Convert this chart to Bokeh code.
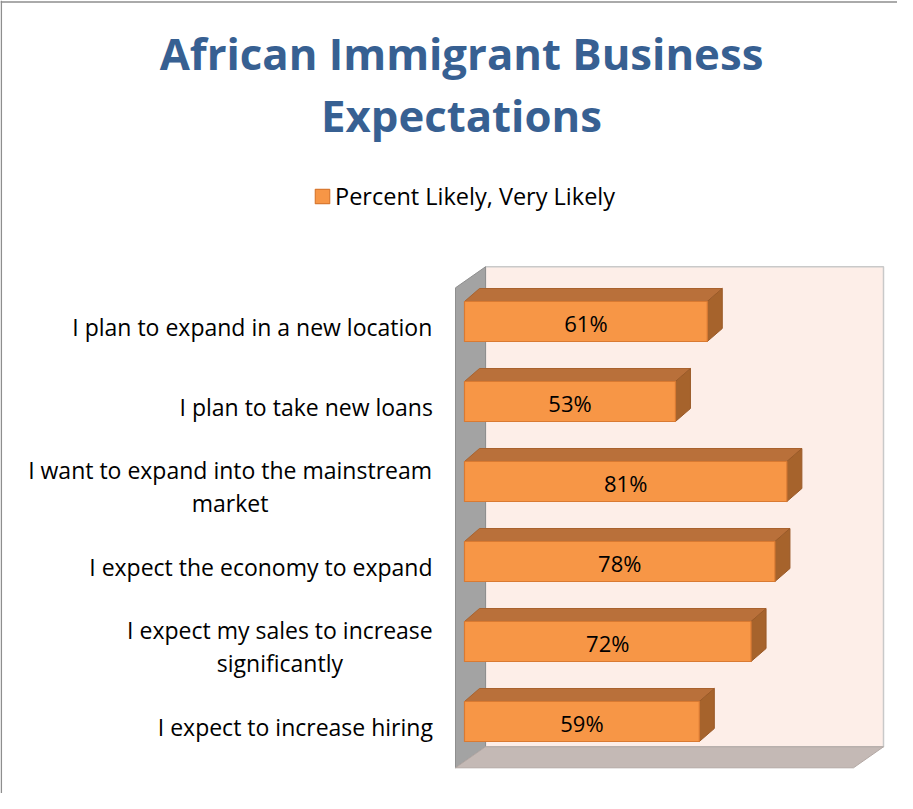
from bokeh.plotting import figure
from bokeh.models import Range1d, Legend, LegendItem, Span
from bokeh.core.properties import value
from bokeh.embed import file_html
from bokeh.resources import INLINE

# ---------------- data ----------------
categories = [
    "I expect to increase hiring",
    "I expect my sales to increase\nsignificantly",
    "I expect the economy to expand",
    "I want to expand into the mainstream\nmarket",
    "I plan to take new loans",
    "I plan to expand in a new location",
]
values = [59, 72, 78, 81, 53, 61]
value_labels = [f"{v}%" for v in values]
series_name = "Percent Likely, Very Likely"
title_text = "African Immigrant Business\nExpectations"
axis_max = 100

# ---------------- geometry / style ----------------
W, H = 897, 793
PX_X = 3.98          # px per percent
PX_Y = 80.0          # px per category
ORIGIN_X = 464       # px of 0% (bar plane) from figure left
ORIGIN_Y = 721       # px of first category centre from figure top

x0 = -ORIGIN_X / PX_X
x1 = (W - ORIGIN_X) / PX_X
y1 = ORIGIN_Y / PX_Y
y0 = (ORIGIN_Y - H) / PX_Y

FONT = "Open Sans"
CAT_FONT_PX = 23.0

# approximate Open Sans advance widths (em) used to centre wrapped label lines
_EM = {" ": .26, "a": .556, "b": .613, "c": .476, "d": .613, "e": .561, "f": .339,
       "g": .548, "h": .614, "i": .253, "k": .525, "l": .253, "m": .930, "n": .614,
       "o": .604, "p": .613, "r": .408, "s": .477, "t": .353, "u": .614, "v": .501,
       "w": .778, "x": .524, "y": .502, "I": .276}


def text_px(s, size):
    return sum(_EM.get(c, .55) for c in s) * size * 1.012


p = figure(width=W, height=H, output_backend="svg", toolbar_location=None,
           x_range=Range1d(x0, x1), y_range=Range1d(y0, y1),
           x_axis_location=None, y_axis_location=None, min_border=0,
           background_fill_color="white", border_fill_color="white")
p.outline_line_color = None
p.xgrid.visible = False
p.ygrid.visible = False

# 3-D box depth (in data units)
DX = 30 / PX_X
DY = 21 / PX_Y
fx, fy = -0.3 * DX, -0.3 * DY   # front plane offset from bar plane
bx, by = 0.7 * DX, 0.7 * DY     # back plane offset
ylo, yhi = -0.5, len(categories) - 0.5

# back wall
p.quad(left=[0 + bx], right=[axis_max + bx], bottom=[ylo + by], top=[yhi + by],
       fill_color="#FDEEE8", line_color="#C9C9C9", line_width=1.5)
# left wall
p.patch(x=[fx, bx, bx, fx], y=[ylo + fy, ylo + by, yhi + by, yhi + fy],
        fill_color="#A3A3A3", line_color="#8F8F8F", line_width=1)
# floor
p.patch(x=[fx, axis_max + fx, axis_max + bx, bx],
        y=[ylo + fy, ylo + fy, ylo + by, ylo + by],
        fill_color="#C4B9B5", line_color="#B3A8A4", line_width=1)

# bars
HALF = 20 / PX_Y
DXB = 15 / PX_X
DYB = 13 / PX_Y
ys = list(range(len(categories)))

top_xs, top_ys, side_xs, side_ys = [], [], [], []
for i, v in zip(ys, values):
    top_xs.append([0, v, v + DXB, DXB])
    top_ys.append([i + HALF, i + HALF, i + HALF + DYB, i + HALF + DYB])
    side_xs.append([v, v + DXB, v + DXB, v])
    side_ys.append([i - HALF, i - HALF + DYB, i + HALF + DYB, i + HALF])

p.patches(xs=top_xs, ys=top_ys, fill_color="#B9703A", line_color="#A9622E", line_width=1)
p.patches(xs=side_xs, ys=side_ys, fill_color="#A6632C", line_color="#9A5A28", line_width=1)
front = p.quad(left=[0] * len(values), right=values,
               bottom=[i - HALF for i in ys], top=[i + HALF for i in ys],
               fill_color="#F79646", line_color="#D97A32", line_width=1.2)

# value labels
p.text(x=[v / 2 for v in values], y=ys, text=value_labels,
       text_font=value(FONT), text_font_size="22px", text_color="#000000",
       text_align="center", text_baseline="middle", y_offset=1)

# category labels: right edge fixed, wrapped lines centred under each other
LABEL_RIGHT = -30 / PX_X
label_x = []
for c in categories:
    widest = max(text_px(line, CAT_FONT_PX) for line in c.split("\n"))
    label_x.append(LABEL_RIGHT - widest / 2 / PX_X)
p.text(x=label_x, y=ys, text=categories,
       text_font=value(FONT), text_font_size=f"{CAT_FONT_PX}px", text_color="#000000",
       text_align="center", text_baseline="middle", y_offset=5,
       text_line_height=1.05)

# title
p.text(x=[-3 / PX_X], y=[(ORIGIN_Y - 83.5) / PX_Y], text=[title_text],
       text_font=value(FONT), text_font_style="bold", text_font_size="43.7px",
       text_color="#376092", text_align="center", text_baseline="middle",
       text_line_height=1.04)

# legend
legend = Legend(items=[LegendItem(label=series_name, renderers=[front])],
                location=(313, 581), orientation="horizontal",
                border_line_color=None, background_fill_alpha=0,
                padding=0, margin=0, spacing=0,
                glyph_width=18, glyph_height=18, label_standoff=4,
                label_text_font=FONT, label_text_font_size="23.5px",
                label_text_color="#000000")
p.add_layout(legend)

# chart border (top and left)
p.add_layout(Span(location=y1 - 1.5 / PX_Y, dimension="width",
                  line_color="#8E8E8E", line_width=1.5))
p.add_layout(Span(location=x0 + 0.8 / PX_X, dimension="height",
                  line_color="#8E8E8E", line_width=1.5))

open("out.html", "w").write(file_html(p, INLINE))
